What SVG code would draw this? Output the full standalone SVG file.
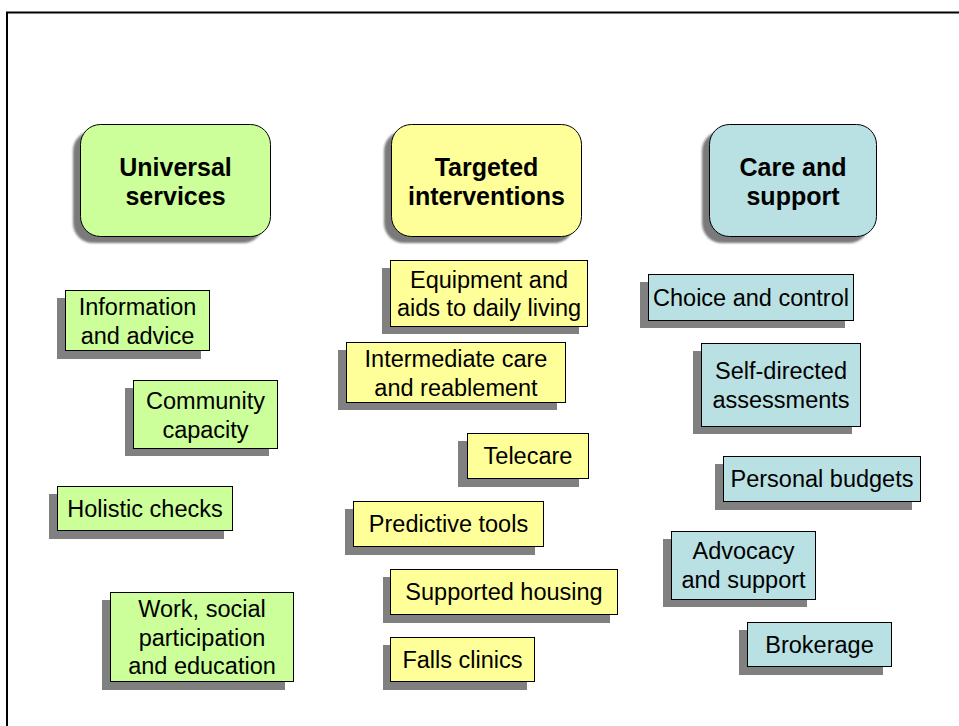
<svg xmlns="http://www.w3.org/2000/svg" width="959" height="726" viewBox="0 0 959 726">
<defs>
<style>
.sh{fill:#808080}
.hsh{fill:#7a7a7a}
.box{stroke:#000;stroke-width:1}
.g{fill:#ccff99}
.y{fill:#ffff99}
.t{fill:#b9e0e2}
.hd{font-family:"Liberation Sans",Arial,sans-serif;font-size:25px;font-weight:bold;fill:#000;text-anchor:middle}
.lb{font-family:"Liberation Sans",Arial,sans-serif;font-size:23.5px;fill:#000;text-anchor:middle}
</style>
<filter id="soft" x="-10%" y="-10%" width="120%" height="120%"><feGaussianBlur stdDeviation="1.2"/></filter>
</defs>
<rect x="0" y="0" width="959" height="726" fill="#fff"/>
<path d="M7,726 V12.5 H959" fill="none" stroke="#000" stroke-width="2"/>

<g id="universal">
<rect class="hsh" x="73" y="131" width="190" height="112" rx="20" filter="url(#soft)"/>
<rect class="box g" x="80.5" y="124.5" width="190" height="112" rx="20"/>
<text class="hd" x="175.5" y="176">Universal</text>
<text class="hd" x="175.5" y="205">services</text>
</g>
<g id="targeted">
<rect class="hsh" x="384" y="131" width="190" height="112" rx="20" filter="url(#soft)"/>
<rect class="box y" x="391.5" y="124.5" width="190" height="112" rx="20"/>
<text class="hd" x="486.5" y="176">Targeted</text>
<text class="hd" x="486.5" y="205">interventions</text>
</g>
<g id="care">
<rect class="hsh" x="702" y="131" width="167" height="112" rx="20" filter="url(#soft)"/>
<rect class="box t" x="709.5" y="124.5" width="167" height="112" rx="20"/>
<text class="hd" x="793" y="176">Care and</text>
<text class="hd" x="793" y="205">support</text>
</g>

<g id="info">
<rect class="sh" x="57" y="298" width="144" height="61"/>
<rect class="box g" x="65.5" y="290.5" width="144" height="60"/>
<text class="lb" x="137.5" y="315">Information</text>
<text class="lb" x="137.5" y="344">and advice</text>
</g>
<g id="community">
<rect class="sh" x="125" y="388" width="144" height="68"/>
<rect class="box g" x="133.5" y="380.5" width="144" height="68"/>
<text class="lb" x="205.5" y="409">Community</text>
<text class="lb" x="205.5" y="438">capacity</text>
</g>
<g id="holistic">
<rect class="sh" x="49" y="494" width="175" height="45"/>
<rect class="box g" x="57.5" y="486.5" width="175" height="44"/>
<text class="lb" x="145" y="517">Holistic checks</text>
</g>
<g id="work">
<rect class="sh" x="102" y="600" width="183" height="90"/>
<rect class="box g" x="110.5" y="592.5" width="183" height="89"/>
<text class="lb" x="202" y="617">Work, social</text>
<text class="lb" x="202" y="646">participation</text>
<text class="lb" x="202" y="674">and education</text>
</g>

<g id="equipment">
<rect class="sh" x="382" y="268" width="197" height="66"/>
<rect class="box y" x="390.5" y="260.5" width="197" height="66"/>
<text class="lb" x="489" y="288">Equipment and</text>
<text class="lb" x="489" y="316">aids to daily living</text>
</g>
<g id="intermediate">
<rect class="sh" x="338" y="350" width="219" height="60"/>
<rect class="box y" x="346.5" y="342.5" width="219" height="60"/>
<text class="lb" x="456" y="367">Intermediate care</text>
<text class="lb" x="456" y="396">and reablement</text>
</g>
<g id="telecare">
<rect class="sh" x="458" y="441" width="121" height="46"/>
<rect class="box y" x="467.5" y="433.5" width="121" height="45"/>
<text class="lb" x="528" y="464">Telecare</text>
</g>
<g id="predictive">
<rect class="sh" x="345" y="509" width="190" height="46"/>
<rect class="box y" x="353.5" y="501.5" width="190" height="45"/>
<text class="lb" x="448.5" y="532">Predictive tools</text>
</g>
<g id="housing">
<rect class="sh" x="383" y="577" width="227" height="46"/>
<rect class="box y" x="390.5" y="569.5" width="227" height="45"/>
<text class="lb" x="504" y="600">Supported housing</text>
</g>
<g id="falls">
<rect class="sh" x="383" y="645" width="144" height="45"/>
<rect class="box y" x="390.5" y="637.5" width="144" height="44"/>
<text class="lb" x="462.5" y="668">Falls clinics</text>
</g>

<g id="choice">
<rect class="sh" x="640" y="282" width="205" height="46"/>
<rect class="box t" x="648.5" y="274.5" width="205" height="46"/>
<text class="lb" x="751" y="306">Choice and control</text>
</g>
<g id="selfdirected">
<rect class="sh" x="693" y="351" width="159" height="83"/>
<rect class="box t" x="701.5" y="343.5" width="159" height="83"/>
<text class="lb" x="781" y="379">Self-directed</text>
<text class="lb" x="781" y="408">assessments</text>
</g>
<g id="budgets">
<rect class="sh" x="715" y="464" width="197" height="46"/>
<rect class="box t" x="723.5" y="456.5" width="197" height="45"/>
<text class="lb" x="822" y="487">Personal budgets</text>
</g>
<g id="advocacy">
<rect class="sh" x="663" y="539" width="144" height="68"/>
<rect class="box t" x="671.5" y="531.5" width="144" height="68"/>
<text class="lb" x="743.5" y="559">Advocacy</text>
<text class="lb" x="743.5" y="588">and support</text>
</g>
<g id="brokerage">
<rect class="sh" x="739" y="630" width="144" height="45"/>
<rect class="box t" x="747.5" y="622.5" width="144" height="44"/>
<text class="lb" x="819.5" y="653">Brokerage</text>
</g>

<g id="connectors"></g>
</svg>
